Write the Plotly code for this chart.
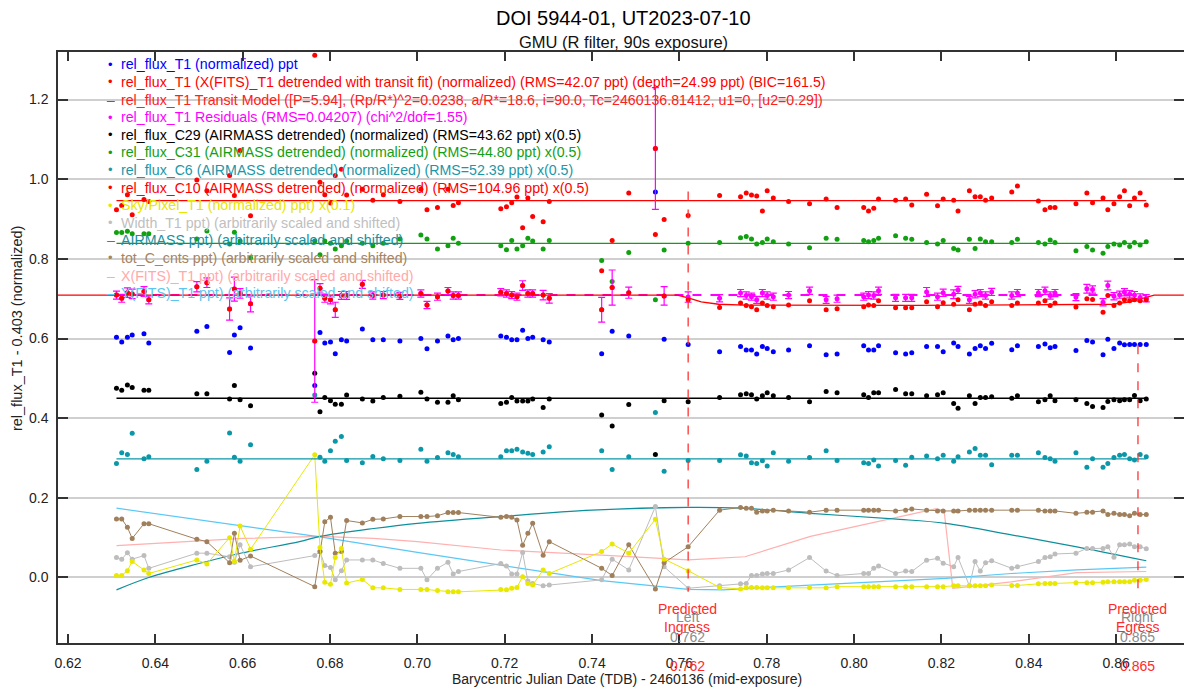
import plotly.graph_objects as go

# ---------------- data ----------------
t_left = [0.6311, 0.6323, 0.6336, 0.6347, 0.6374, 0.6385, 0.6495, 0.6518, 0.6570, 0.6581, 0.6594, 0.6618,
          0.6765, 0.6777, 0.6788, 0.6801, 0.6812, 0.6826, 0.6838, 0.6874, 0.6898, 0.6922, 0.6960,
          0.7008, 0.7022, 0.7046, 0.7070, 0.7082, 0.7094, 0.7191, 0.7204, 0.7216, 0.7228, 0.7241,
          0.7253, 0.7264, 0.7288, 0.7302]
t_mid = [0.7422, 0.7446, 0.7484, 0.7545, 0.7565, 0.7620]
t_right = [0.7692, 0.7740, 0.7753, 0.7765, 0.7777, 0.7790, 0.7801, 0.7815, 0.7850, 0.7898, 0.7936, 0.7961,
           0.8022, 0.8033, 0.8045, 0.8056, 0.8095, 0.8118, 0.8132, 0.8166, 0.8191, 0.8204, 0.8228, 0.8238,
           0.8264, 0.8277, 0.8289, 0.8301, 0.8315, 0.8361, 0.8374, 0.8422, 0.8437, 0.8449, 0.8460, 0.8508,
           0.8533, 0.8546, 0.8570, 0.8581, 0.8595, 0.8608, 0.8619, 0.8631, 0.8642, 0.8655, 0.8669]
times = t_left + t_mid + t_right

blue_T1 = [0.603, 0.591, 0.603, 0.609, 0.612, 0.589, 0.618, 0.630, 0.565, 0.609, 0.627, 0.576, 0.482, 0.615,
           0.589, 0.591, 0.562, 0.597, 0.594, 0.624, 0.597, 0.597, 0.594, 0.600, 0.574, 0.594, 0.606, 0.597,
           0.600, 0.606, 0.603, 0.597, 0.597, 0.621, 0.600, 0.603, 0.597, 0.591,
           0.562, 0.618, 0.606, 0.968, 0.598, 0.585,
           0.567, 0.580, 0.571, 0.571, 0.561, 0.580, 0.575, 0.567, 0.571, 0.582, 0.559, 0.561, 0.582, 0.571,
           0.571, 0.582, 0.564, 0.561, 0.564, 0.580, 0.580, 0.567, 0.589, 0.580, 0.561, 0.575, 0.582, 0.575,
           0.588, 0.572, 0.582, 0.580, 0.586, 0.577, 0.580, 0.570, 0.595, 0.591, 0.559, 0.598, 0.575, 0.589,
           0.584, 0.585, 0.585, 0.585, 0.585]

det_T1 = [0.709, 0.701, 0.715, 0.712, 0.718, 0.697, 0.730, 0.740, 0.674, 0.724, 0.713, 0.687, 0.594, 0.726,
          0.701, 0.697, 0.672, 0.708, 0.708, 0.736, 0.708, 0.709, 0.707, 0.713, 0.684, 0.705, 0.719, 0.708,
          0.708, 0.716, 0.713, 0.709, 0.705, 0.733, 0.713, 0.713, 0.709, 0.701,
          0.672, 0.728, 0.715, 1.077, 0.707, 0.697,
          0.678, 0.689, 0.683, 0.680, 0.672, 0.689, 0.683, 0.680, 0.684, 0.695, 0.672, 0.675, 0.680, 0.684,
          0.683, 0.695, 0.677, 0.677, 0.677, 0.692, 0.680, 0.690, 0.686, 0.697, 0.672, 0.686, 0.689, 0.683,
          0.692, 0.683, 0.689, 0.689, 0.695, 0.683, 0.689, 0.679, 0.700, 0.698, 0.666, 0.708, 0.683, 0.689,
          0.697, 0.695, 0.697, 0.695, 0.697]

resid_T1 = [0.709, 0.701, 0.715, 0.712, 0.718, 0.697, 0.730, 0.740, 0.674, 0.724, 0.713, 0.687, 0.594, 0.726,
            0.701, 0.697, 0.672, 0.708, 0.708, 0.736, 0.708, 0.709, 0.707, 0.713, 0.684, 0.705, 0.719, 0.708,
            0.708, 0.716, 0.713, 0.709, 0.705, 0.733, 0.713, 0.713, 0.709, 0.701,
            0.672, 0.728, 0.715, 1.077, 0.707, 0.704,
            0.701, 0.714, 0.708, 0.705, 0.697, 0.714, 0.708, 0.705, 0.709, 0.720, 0.697, 0.700, 0.705, 0.709,
            0.708, 0.720, 0.702, 0.702, 0.702, 0.717, 0.705, 0.715, 0.711, 0.722, 0.697, 0.711, 0.714, 0.708,
            0.717, 0.708, 0.714, 0.714, 0.720, 0.708, 0.714, 0.704, 0.725, 0.723, 0.691, 0.733, 0.706, 0.710,
            0.716, 0.711, 0.709, 0.703, 0.701]

resid_err = [0.010, 0.010, 0.012, 0.012, 0.012, 0.010, 0.013, 0.012, 0.028, 0.030, 0.012, 0.020, 0.154, 0.012,
             0.010, 0.010, 0.019, 0.010, 0.010, 0.010, 0.009, 0.009, 0.009, 0.009, 0.009, 0.009, 0.009, 0.009,
             0.009, 0.009, 0.009, 0.009, 0.009, 0.012, 0.009, 0.009, 0.012, 0.012,
             0.031, 0.044, 0.014, 0.153, 0.023, 0.013,
             0.009, 0.009, 0.009, 0.009, 0.009, 0.009, 0.009, 0.009, 0.009, 0.009, 0.009, 0.009, 0.009, 0.009,
             0.009, 0.009, 0.009, 0.009, 0.009, 0.011, 0.009, 0.009, 0.011, 0.009, 0.009, 0.009, 0.009, 0.009,
             0.009, 0.009, 0.009, 0.009, 0.009, 0.009, 0.009, 0.009, 0.011, 0.009, 0.009, 0.011, 0.009, 0.009,
             0.009, 0.009, 0.009, 0.009, 0.009]

model_t = [0.6177, 0.7595, 0.7620, 0.7650, 0.7690, 0.7750, 0.8141, 0.8532, 0.8592, 0.8632, 0.8662, 0.8687, 0.8755]
model_v = [0.709, 0.709, 0.702, 0.692, 0.686, 0.684, 0.683, 0.684, 0.686, 0.692, 0.702, 0.709, 0.709]
resid_zero = 0.709

c29 = [0.475, 0.470, 0.483, 0.477, 0.470, 0.470, 0.461, 0.461, 0.448, 0.482, 0.446, 0.431, 0.513, 0.416,
       0.452, 0.444, 0.435, 0.435, 0.458, 0.448, 0.443, 0.452, 0.455, 0.465, 0.448, 0.440, 0.440, 0.456,
       0.446, 0.437, 0.440, 0.452, 0.443, 0.443, 0.443, 0.448, 0.427, 0.448,
       0.408, 0.380, 0.434, 0.309, 0.444, 0.441,
       0.452, 0.459, 0.461, 0.459, 0.448, 0.456, 0.464, 0.456, 0.452, 0.441, 0.467, 0.464, 0.459, 0.452,
       0.464, 0.464, 0.472, 0.461, 0.461, 0.456, 0.459, 0.464, 0.437, 0.425, 0.456, 0.437, 0.452, 0.452,
       0.454, 0.450, 0.456, 0.441, 0.446, 0.456, 0.444, 0.446, 0.437, 0.429, 0.427, 0.442, 0.446, 0.444,
       0.446, 0.446, 0.457, 0.444, 0.448]
c29_level = 0.450

c31 = [0.866, 0.866, 0.869, 0.863, 0.863, 0.863, 0.850, 0.870, 0.837, 0.867, 0.845, 0.803, 0.845, 0.810,
       0.845, 0.839, 0.825, 0.833, 0.845, 0.839, 0.833, 0.839, 0.850, 0.860, 0.850, 0.825, 0.833, 0.852,
       0.839, 0.833, 0.823, 0.846, 0.825, 0.833, 0.852, 0.845, 0.825, 0.846,
       0.796, 0.743, 0.816, 0.697, 0.822, 0.839,
       0.841, 0.853, 0.856, 0.850, 0.837, 0.841, 0.850, 0.843, 0.837, 0.828, 0.852, 0.849, 0.846, 0.843,
       0.846, 0.852, 0.858, 0.852, 0.849, 0.841, 0.837, 0.846, 0.826, 0.822, 0.849, 0.826, 0.850, 0.843,
       0.843, 0.841, 0.849, 0.841, 0.837, 0.847, 0.841, 0.820, 0.831, 0.822, 0.814, 0.831, 0.837, 0.835,
       0.841, 0.831, 0.841, 0.835, 0.843]
c31_level = 0.839

c6 = [0.286, 0.313, 0.309, 0.362, 0.298, 0.303, 0.271, 0.292, 0.363, 0.302, 0.292, 0.333, 0.458, 0.302,
      0.292, 0.318, 0.342, 0.354, 0.294, 0.288, 0.304, 0.298, 0.294, 0.322, 0.292, 0.301, 0.313, 0.309,
      0.303, 0.303, 0.318, 0.318, 0.322, 0.315, 0.312, 0.309, 0.315, 0.328,
      0.318, 0.271, 0.303, 0.414, 0.267, 0.294,
      0.294, 0.308, 0.305, 0.288, 0.286, 0.293, 0.280, 0.313, 0.292, 0.301, 0.318, 0.294, 0.288, 0.286,
      0.295, 0.280, 0.294, 0.282, 0.302, 0.305, 0.298, 0.307, 0.292, 0.303, 0.315, 0.324, 0.307, 0.307,
      0.283, 0.307, 0.307, 0.313, 0.301, 0.298, 0.292, 0.313, 0.277, 0.298, 0.277, 0.286, 0.301, 0.307,
      0.309, 0.298, 0.295, 0.309, 0.303]
c6_level = 0.298

c10 = [0.923, 0.934, 0.961, 0.911, 0.949, 0.944, 0.998, 0.971, 1.009, 0.959, 1.072, 0.908, 1.311, 0.992,
       0.961, 0.940, 1.009, 1.025, 0.960, 0.975, 0.947, 0.961, 0.944, 0.975, 0.923, 0.929, 0.975, 0.934,
       0.941, 0.926, 0.931, 0.941, 0.955, 0.878, 0.953, 0.906, 0.893, 0.944,
       0.770, 0.846, 0.965, 0.861, 0.899, 0.909,
       0.959, 0.956, 0.965, 0.960, 0.958, 0.920, 0.971, 0.953, 0.944, 0.938, 0.950, 0.929, 0.929, 0.920,
       0.927, 0.950, 0.947, 0.950, 0.935, 0.962, 0.933, 0.950, 0.947, 0.920, 0.971, 0.956, 0.956, 0.947,
       0.953, 0.968, 0.983, 0.945, 0.923, 0.929, 0.929, 0.938, 0.965, 0.941, 0.953, 0.923, 0.938, 0.956,
       0.971, 0.933, 0.953, 0.965, 0.935]
c10_level = 0.946

sky = [0.005, 0.005, 0.017, 0.040, 0.019, 0.010, 0.044, 0.034, 0.100, 0.040, 0.129, 0.071, 0.308, 0.075,
       -0.012, -0.017, 0.050, 0.073, -0.014, -0.005, -0.026, -0.026, -0.030, -0.030, -0.030, -0.033, -0.036,
       -0.036, -0.036, -0.030, -0.031, -0.027, -0.025, 0.002, -0.015, -0.019, 0.019, 0.010,
       0.065, 0.084, 0.061, 0.146, 0.046, 0.017,
       -0.025, -0.029, -0.026, -0.025, -0.025, -0.026, -0.026, -0.026, -0.026, -0.026, -0.026, -0.023, -0.023,
       -0.023, -0.023, -0.023, -0.023, -0.023, -0.023, -0.023, -0.023, -0.023, -0.021, -0.021, -0.021, -0.021,
       -0.021, -0.021, -0.019, -0.020, -0.020, -0.016, -0.015, -0.015, -0.015, -0.013, -0.013, -0.013, -0.012,
       -0.011, -0.011, -0.011, -0.011, -0.011, -0.007, -0.007, -0.005]

width = [0.050, 0.046, 0.062, 0.046, 0.055, 0.023, 0.061, 0.061, 0.052, 0.038, 0.082, 0.027, 0.055, 0.065,
         0.030, 0.025, -0.006, 0.017, 0.044, 0.044, 0.044, 0.035, 0.023, 0.023, -0.006, 0.023, 0.038, 0.009,
         0.015, 0.035, 0.029, 0.009, 0.009, 0.063, -0.009, -0.015, -0.021, -0.019,
         -0.006, 0.046, 0.019, 0.178, 0.027, -0.027,
         -0.021, -0.016, -0.015, 0.005, 0.005, 0.009, 0.010, 0.010, 0.019, 0.050, 0.016, 0.005, 0.010, 0.010,
         0.023, 0.029, 0.010, 0.016, 0.015, 0.043, 0.048, 0.036, 0.027, 0.050, -0.021, 0.040, 0.016, 0.037,
         0.042, 0.023, 0.027, 0.040, 0.050, 0.052, 0.059, 0.061, 0.073, 0.073, 0.073, 0.077, 0.051, 0.082,
         0.082, 0.084, 0.077, 0.077, 0.072]

tot_c = [0.147, 0.147, 0.126, 0.098, 0.135, 0.135, 0.096, 0.090, 0.037, 0.111, 0.043, 0.054, -0.023, 0.065,
         0.140, 0.151, 0.061, 0.065, 0.143, 0.137, 0.146, 0.147, 0.153, 0.153, 0.153, 0.155, 0.163, 0.163,
         0.163, 0.151, 0.153, 0.151, 0.144, 0.081, 0.111, 0.136, 0.056, 0.090,
         0.023, 0.005, 0.082, -0.029, 0.037, 0.077,
         0.169, 0.176, 0.174, 0.174, 0.164, 0.167, 0.167, 0.169, 0.167, 0.164, 0.169, 0.169, 0.169, 0.169,
         0.169, 0.169, 0.167, 0.169, 0.172, 0.169, 0.167, 0.167, 0.167, 0.167, 0.169, 0.169, 0.169, 0.169,
         0.169, 0.169, 0.169, 0.169, 0.167, 0.167, 0.167, 0.161, 0.164, 0.164, 0.167, 0.158, 0.161, 0.158,
         0.158, 0.155, 0.161, 0.158, 0.158]

airmass_t = [0.6311, 0.6385, 0.6500, 0.6600, 0.6730, 0.6777, 0.6900, 0.7000, 0.7191, 0.7400, 0.7620, 0.7740,
             0.7900, 0.8090, 0.8210, 0.8360, 0.8510, 0.8669]
airmass_v = [-0.031, 0.000, 0.035, 0.062, 0.090, 0.103, 0.123, 0.136, 0.153, 0.169, 0.176, 0.174,
             0.161, 0.147, 0.136, 0.107, 0.077, 0.042]

xfits_t = [0.6311, 0.6600, 0.6777, 0.6900, 0.7000, 0.7191, 0.7422, 0.7620, 0.7750, 0.7900, 0.8090, 0.8186,
           0.8206, 0.8226, 0.8263, 0.8360, 0.8510, 0.8669]
xfits_v = [0.080, 0.098, 0.103, 0.098, 0.090, 0.069, 0.056, 0.044, 0.052, 0.103, 0.149, 0.172,
           0.169, -0.027, -0.023, -0.011, 0.012, 0.015]

yfits_t = [0.6311, 0.6500, 0.6777, 0.7000, 0.7191, 0.7422, 0.7620, 0.7700, 0.7900, 0.8210, 0.8360, 0.8510, 0.8669]
yfits_v = [0.174, 0.145, 0.102, 0.063, 0.031, -0.008, -0.030, -0.031, -0.019, -0.002, 0.010, 0.019, 0.026]

ingress_t = 0.762
egress_t = 0.865
ingress_span = [0.969, -0.036]
egress_span = [0.583, -0.044]

x_ticks = [0.62, 0.64, 0.66, 0.68, 0.70, 0.72, 0.74, 0.76, 0.78, 0.80, 0.82, 0.84, 0.86]
y_ticks = [0.0, 0.2, 0.4, 0.6, 0.8, 1.0, 1.2]

legend_items = [
    ("•", "rel_flux_T1 (normalized) ppt", "#0000ff"),
    ("•", "rel_flux_T1 (X(FITS)_T1 detrended with transit fit) (normalized) (RMS=42.07 ppt) (depth=24.99 ppt) (BIC=161.5)", "#ff0000"),
    ("–", "rel_flux_T1 Transit Model ([P=5.94], (Rp/R*)^2=0.0238, a/R*=18.6, i=90.0, Tc=2460136.81412, u1=0, [u2=0.29])", "#ff2020"),
    ("•", "rel_flux_T1 Residuals (RMS=0.04207) (chi^2/dof=1.55)", "#ff00ff"),
    ("•", "rel_flux_C29 (AIRMASS detrended) (normalized) (RMS=43.62 ppt) x(0.5)", "#000000"),
    ("•", "rel_flux_C31 (AIRMASS detrended) (normalized) (RMS=44.80 ppt) x(0.5)", "#14a014"),
    ("•", "rel_flux_C6 (AIRMASS detrended) (normalized) (RMS=52.39 ppt) x(0.5)", "#1b97a8"),
    ("•", "rel_flux_C10 (AIRMASS detrended) (normalized) (RMS=104.96 ppt) x(0.5)", "#ff0000"),
    ("•", "Sky/Pixel_T1 (normalized) ppt) x(0.1)", "#e6e600"),
    ("•", "Width_T1 ppt) (arbitrarily scaled and shifted)", "#c0c0c0"),
    ("–", "AIRMASS ppt) (arbitrarily scaled and shifted)", "#1a8fa0"),
    ("•", "tot_C_cnts ppt) (arbitrarily scaled and shifted)", "#a58462"),
    ("–", "X(FITS)_T1 ppt) (arbitrarily scaled and shifted)", "#ffaaaa"),
    ("–", "Y(FITS)_T1 ppt) (arbitrarily scaled and shifted)", "#5cc4f0"),
]

# ---------------- layout geometry ----------------
# the page body adds an 8px margin; the figure is sized so the plot area lands on
# page pixels x 58..1186, y 52..643
OFF = 8
L, R, T, B = 58, 1186, 52, 643
FIG_W, FIG_H = 1192 - OFF, 690 - OFF
FONT = "Arial, Liberation Sans, sans-serif"


def px(x):
    return (x - L) / (R - L)


def py(y):
    return (B - y) / (B - T)


C_BLUE = "#0000ff"
C_RED = "#ff0000"
C_MAG = "#ff00ff"
C_GREEN = "#10a010"
C_C6 = "#0a97a8"
C_YEL = "#e8e800"
C_GRAY = "#bdbdbd"
C_AIR = "#0e8f9c"
C_BROWN = "#a0805c"
C_PINK = "#ffb0b0"
C_LBLUE = "#5ac8f5"

fig = go.Figure()

t0, t1 = times[0], times[-1]

# auxiliary (bottom) series
fig.add_trace(go.Scatter(x=xfits_t, y=xfits_v, mode="lines", line=dict(color=C_PINK, width=1.2)))
fig.add_trace(go.Scatter(x=yfits_t, y=yfits_v, mode="lines", line=dict(color=C_LBLUE, width=1.2)))
fig.add_trace(go.Scatter(x=airmass_t, y=airmass_v, mode="lines", line=dict(color=C_AIR, width=1.2, shape="spline")))
fig.add_trace(go.Scatter(x=times, y=width, mode="lines+markers", line=dict(color=C_GRAY, width=1),
                         marker=dict(color=C_GRAY, size=5)))
fig.add_trace(go.Scatter(x=times, y=tot_c, mode="lines+markers", line=dict(color=C_BROWN, width=1),
                         marker=dict(color=C_BROWN, size=5)))
fig.add_trace(go.Scatter(x=times, y=sky, mode="lines+markers", line=dict(color=C_YEL, width=1),
                         marker=dict(color=C_YEL, size=5)))

# comparison stars with fit levels
for vals, lev, col in [(c6, c6_level, C_C6), (c29, c29_level, "#000000"),
                       (c31, c31_level, C_GREEN), (c10, c10_level, C_RED)]:
    fig.add_trace(go.Scatter(x=[t0, t1], y=[lev, lev], mode="lines", line=dict(color=col, width=1.3)))
    fig.add_trace(go.Scatter(x=times, y=vals, mode="markers", marker=dict(color=col, size=5)))

# target
fig.add_trace(go.Scatter(x=times, y=blue_T1, mode="markers", marker=dict(color=C_BLUE, size=5)))
fig.add_trace(go.Scatter(x=[t0, t1], y=[resid_zero, resid_zero], mode="lines",
                         line=dict(color=C_MAG, width=2, dash="dash")))
fig.add_trace(go.Scatter(x=model_t, y=model_v, mode="lines", line=dict(color=C_RED, width=1.3)))
fig.add_trace(go.Scatter(x=times, y=resid_T1, mode="markers", marker=dict(color=C_MAG, size=5),
                         error_y=dict(type="data", array=resid_err, color=C_MAG, thickness=1.2, width=3.5)))
fig.add_trace(go.Scatter(x=times, y=det_T1, mode="markers", marker=dict(color=C_RED, size=5)))

# predicted ingress / egress
for tt, span in [(ingress_t, ingress_span), (egress_t, egress_span)]:
    fig.add_trace(go.Scatter(x=[tt, tt], y=span, mode="lines",
                             line=dict(color="#ff3333", width=1.3, dash="dash")))

ann = []
# legend lines
for i, (sym, txt, col) in enumerate(legend_items):
    yy = 64.3 + 17.6 * i
    ann.append(dict(x=px(111), y=py(yy), xref="paper", yref="paper", text=sym, showarrow=False,
                    font=dict(family=FONT, size=13 if sym == "•" else 14, color=col),
                    xanchor="center", yanchor="middle"))
    ann.append(dict(x=px(119), y=py(yy), xref="paper", yref="paper", text=txt, showarrow=False,
                    font=dict(family=FONT, size=14.2, color=col), xanchor="left", yanchor="middle"))

# ingress/egress labels
for xp, side, side2, val in [(688.5, "Left", "Ingress", "0.762"), (1139.5, "Right", "Egress", "0.865")]:
    ann.append(dict(x=px(xp), y=py(617), xref="paper", yref="paper", text=side, showarrow=False,
                    font=dict(family=FONT, size=14, color="#8c8c8c"), xanchor="center", yanchor="middle"))
    ann.append(dict(x=px(xp), y=py(637), xref="paper", yref="paper", text=val, showarrow=False,
                    font=dict(family=FONT, size=14, color="#8c8c8c"), xanchor="center", yanchor="middle"))
    ann.append(dict(x=px(xp), y=py(609), xref="paper", yref="paper", text="Predicted", showarrow=False,
                    font=dict(family=FONT, size=14, color="#ff2a2a"), xanchor="center", yanchor="middle"))
    ann.append(dict(x=px(xp), y=py(627), xref="paper", yref="paper", text=side2, showarrow=False,
                    font=dict(family=FONT, size=14, color="#ff2a2a"), xanchor="center", yanchor="middle"))
    ann.append(dict(x=px(xp), y=py(665.5), xref="paper", yref="paper", text=val, showarrow=False,
                    font=dict(family=FONT, size=14, color="#ff2a2a"), xanchor="center", yanchor="middle"))

# titles
ann.append(dict(x=px(625), y=py(18), xref="paper", yref="paper", text="DOI 5944-01, UT2023-07-10",
                showarrow=False, font=dict(family=FONT, size=20, color="#000000"),
                xanchor="center", yanchor="middle"))
ann.append(dict(x=px(625), y=py(41.5), xref="paper", yref="paper", text="GMU (R filter, 90s exposure)",
                showarrow=False, font=dict(family=FONT, size=16.5, color="#111111"),
                xanchor="center", yanchor="middle"))
ann.append(dict(x=px(628), y=py(679), xref="paper", yref="paper",
                text="Barycentric Julian Date (TDB) - 2460136 (mid-exposure)",
                showarrow=False, font=dict(family=FONT, size=14, color="#222222"),
                xanchor="center", yanchor="middle"))
ann.append(dict(x=px(17), y=py(328), xref="paper", yref="paper", text="rel_flux_T1 - 0.403 (normalized)",
                showarrow=False, textangle=-90, font=dict(family=FONT, size=14.5, color="#222222"),
                xanchor="center", yanchor="middle"))

fig.update_layout(
    width=FIG_W, height=FIG_H,
    margin=dict(l=L - OFF, r=1192 - R, t=T - OFF, b=690 - B, pad=0),
    paper_bgcolor="white", plot_bgcolor="white",
    showlegend=False,
    annotations=ann,
    font=dict(family=FONT, size=14, color="#222222"),
)
fig.update_xaxes(range=[0.61771, 0.87554], tickvals=x_ticks, ticktext=[f"{v:.2f}" for v in x_ticks],
                 showgrid=False, zeroline=False, showline=True, linecolor="#333333", linewidth=1.5,
                 mirror="ticks", ticks="inside", ticklen=9, tickwidth=1.5, tickcolor="#333333",
                 tickfont=dict(family=FONT, size=14, color="#222222"), ticklabelstandoff=6)
fig.update_yaxes(range=[-0.1645, 1.3193], tickvals=y_ticks, ticktext=[f"{v:.1f}" for v in y_ticks],
                 showgrid=True, gridcolor="#cfcfcf", gridwidth=1.5, zeroline=False,
                 showline=True, linecolor="#333333", linewidth=1.5,
                 mirror="ticks", ticks="inside", ticklen=10, tickwidth=1.5, tickcolor="#333333",
                 tickfont=dict(family=FONT, size=14, color="#222222"), ticklabelstandoff=5)

fig.write_html("out.html")
